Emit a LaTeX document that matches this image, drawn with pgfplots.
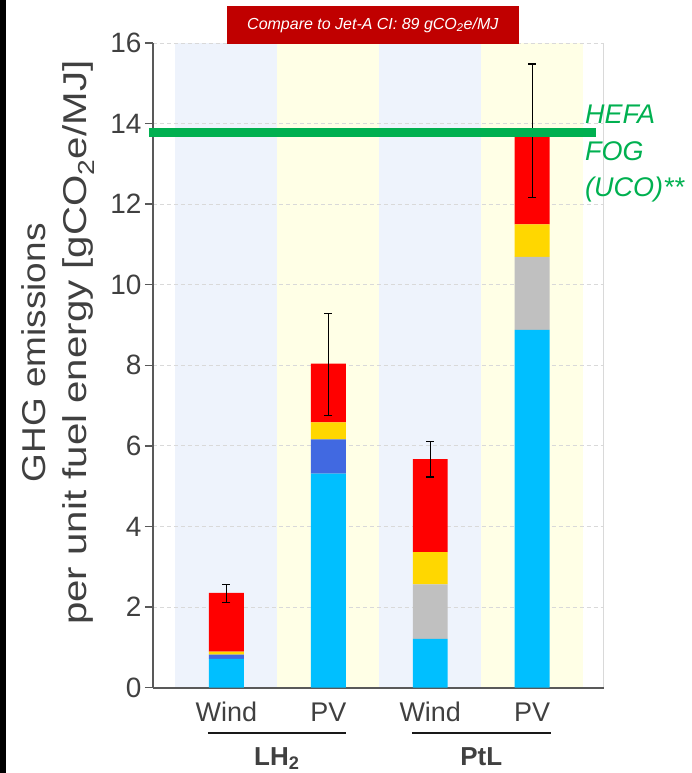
\documentclass[border=0pt]{standalone}
\usepackage{pgfplots}
\pgfplotsset{compat=1.18}
\usepackage{fontspec}
\setmainfont{Liberation Sans}
\definecolor{cLB}{HTML}{00BFFF}
\definecolor{cRB}{HTML}{4169E1}
\definecolor{cGR}{HTML}{C0C0C0}
\definecolor{cGO}{HTML}{FFD700}
\definecolor{cRE}{HTML}{FF0000}
\definecolor{bandB}{HTML}{EEF3FC}
\definecolor{bandY}{HTML}{FFFFE6}
\definecolor{axc}{HTML}{595959}
\definecolor{txt}{HTML}{404040}
\definecolor{gridc}{HTML}{D9D9D9}
\definecolor{hefa}{HTML}{00B050}
\definecolor{boxr}{HTML}{C00000}
\pgfplotsset{
  base/.style={
    at={(153pt,85pt)}, anchor=south west,
    scale only axis, width=451pt, height=645pt,
    xmin=-0.7206, xmax=3.701, ymin=0, ymax=16, clip=false,
  }
}
\begin{document}
\begin{tikzpicture}[x=1pt,y=1pt]
\fill[black] (0,0) rectangle (6,773);
% background bands + grid
\begin{axis}[base,
  axis on top,
  axis line style={draw=none},
  ytick={2,4,...,16}, yticklabels={}, xtick=\empty,
  major tick length=0pt,
  ymajorgrids, major grid style={color=gridc, line width=0.8pt, dash pattern=on 4pt off 3pt},
]
\fill[bandB] (axis cs:-0.5,0) rectangle (axis cs:0.5,16);
\fill[bandY] (axis cs:0.5,0) rectangle (axis cs:1.5,16);
\fill[bandB] (axis cs:1.5,0) rectangle (axis cs:2.5,16);
\fill[bandY] (axis cs:2.5,0) rectangle (axis cs:3.5,16);
\draw[color=gridc, line width=1pt] (axis cs:3.701,0) -- (axis cs:3.701,16);
\end{axis}
% bars
\begin{axis}[base,
  ybar stacked, bar width=35pt,
  axis x line*=bottom, axis y line*=left,
  axis line style={-, color=axc, line width=2pt},
  ytick={0,2,...,16},
  xtick={0,1,2,3}, xticklabels={Wind,PV,Wind,PV},
  xtick style={draw=none},
  ytick style={color=axc, line width=1.5pt},
  major tick length=8pt, tick align=outside,
  /pgf/number format/assume math mode=true,
  yticklabel style={font=\fontsize{28}{32}\selectfont, color=txt},
  xticklabel style={font=\fontsize{27}{32}\selectfont, color=txt, anchor=base, yshift=-26pt},
]
\addplot[fill=cLB, draw=none] coordinates {(0,0.71) (1,5.31) (2,1.21) (3,8.88)};
\addplot[fill=cRB, draw=none] coordinates {(0,0.11) (1,0.85) (2,0) (3,0)};
\addplot[fill=cGR, draw=none] coordinates {(0,0) (1,0) (2,1.35) (3,1.81)};
\addplot[fill=cGO, draw=none] coordinates {(0,0.07) (1,0.42) (2,0.80) (3,0.81)};
\addplot[fill=cRE, draw=none] coordinates {(0,1.46) (1,1.46) (2,2.31) (3,2.18)};
\end{axis}
% error bars + HEFA line
\begin{axis}[base, hide axis]
\addplot[draw=none, mark=none,
  error bars/.cd, y dir=both, y explicit,
  error bar style={draw=black, line width=1.3pt},
  error mark options={draw=black, rotate=90, mark size=4pt, line width=1.3pt}]
  coordinates {(0,2.335) +- (0,0.225) (1,8.02) +- (0,1.26) (2,5.67) +- (0,0.44) (3,13.82) +- (0,1.66)};
\draw[line width=9pt, color=hefa] (axis cs:-0.76,13.78) -- (axis cs:3.63,13.78);
\end{axis}
% title box
\fill[boxr] (227,729) rectangle (519,767);
\node[white, font=\fontsize{16}{19}\selectfont\itshape] at (373,748) {Compare to Jet-A CI: 89 gCO\textsubscript{2}e/MJ};
% HEFA label
\node[hefa, anchor=base west, align=left, font=\fontsize{27}{36.5}\selectfont\itshape] at (582,576) {HEFA\\FOG\\(UCO)**};
% y label
\node[rotate=90, anchor=base, color=txt, font=\fontsize{33}{40}\selectfont] at (46,420) {\scalebox{1.12}[1]{GHG emissions}};
\node[rotate=90, anchor=base, color=txt, font=\fontsize{33}{40}\selectfont] at (87,430) {\scalebox{1.22}[1]{per unit fuel energy [gCO\textsubscript{2}e/MJ]}};
% group lines and labels
\draw[line width=2pt, color=black!90] (208,40) -- (346,40);
\draw[line width=2pt, color=black!90] (412,40) -- (551,40);
\node[anchor=base, color=txt, font=\fontsize{26}{30}\selectfont\bfseries] at (277,7) {LH\textsubscript{2}};
\node[anchor=base, color=txt, font=\fontsize{26}{30}\selectfont\bfseries] at (481.5,7) {PtL};
\path (0,0) rectangle (692,773);
\end{tikzpicture}
\end{document}
